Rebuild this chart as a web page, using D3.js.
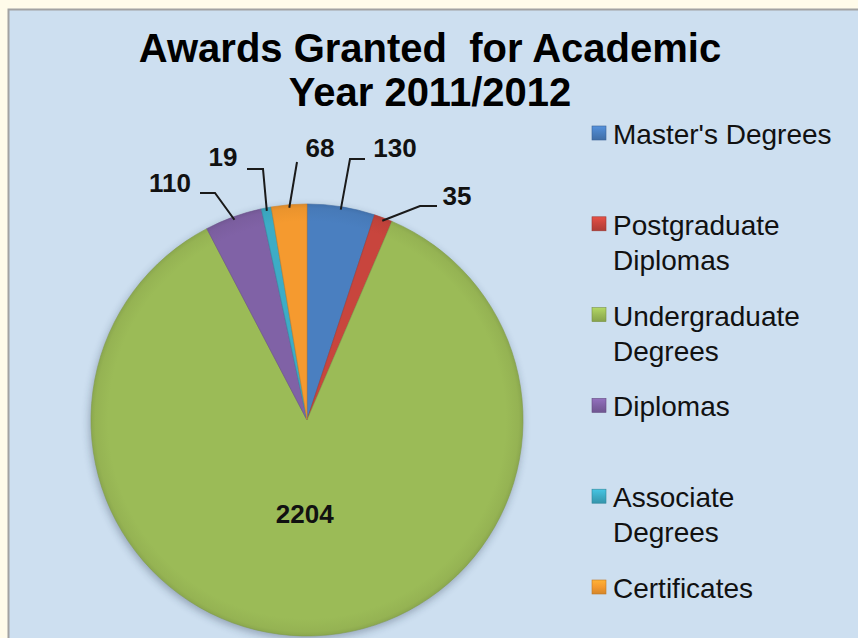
<!DOCTYPE html>
<html>
<head>
<meta charset="utf-8">
<script src="https://cdn.jsdelivr.net/npm/d3@7"></script>
<style>
  html, body { margin: 0; padding: 0; background: #fffbea; }
  svg { display: block; }
</style>
</head>
<body>
<svg id="chart" width="858" height="638"></svg>
<script>
// ---- data ----
const categories = ["Master's Degrees", "Postgraduate Diplomas", "Undergraduate Degrees", "Diplomas", "Associate Degrees", "Certificates"];
const values = [130, 35, 2204, 110, 19, 68];
const legendLines = [["Master's Degrees"], ["Postgraduate", "Diplomas"], ["Undergraduate", "Degrees"], ["Diplomas"], ["Associate", "Degrees"], ["Certificates"]];
const colors = ["#4a7fc0", "#c8453d", "#9bbb57", "#8062a6", "#3dacc6", "#f59a2f"];
const titleLines = ["Awards Granted  for Academic", "Year 2011/2012"];

// ---- layout (positions of outside labels: elbow point and horizontal end) ----
const labelLayout = [
  { elbow: [350, 159], end: [365, 159], text: [395, 157] },
  { elbow: [420, 206], end: [437, 206], text: [457, 205] },
  null,
  { elbow: [215, 193], end: [200, 193], text: [170, 192] },
  { elbow: [263, 169], end: [247, 169], text: [223, 166] },
  { elbow: [297, 162], end: [297, 162], text: [320, 157] }
];

const svg = d3.select("#chart");
const W = 858, H = 638;
const font = "'Liberation Sans', Arial, Helvetica, sans-serif";

const defs = svg.append("defs");
const blur = defs.append("filter").attr("id", "blur")
  .attr("x", "-20%").attr("y", "-20%").attr("width", "140%").attr("height", "140%");
blur.append("feGaussianBlur").attr("stdDeviation", 4);

// panel
svg.append("rect").attr("x", 8.5).attr("y", 9.5).attr("width", W).attr("height", H)
  .attr("fill", "#cddff0").attr("stroke", "#a2a2a2").attr("stroke-width", 2);

// title
svg.append("text").attr("x", 430).attr("y", 62)
  .attr("text-anchor", "middle").attr("font-family", font).attr("font-weight", "bold")
  .attr("font-size", 40).attr("fill", "#000").style("white-space", "pre")
  .text(titleLines[0]);
svg.append("text").attr("x", 430).attr("y", 106)
  .attr("text-anchor", "middle").attr("font-family", font).attr("font-weight", "bold")
  .attr("font-size", 40).attr("fill", "#000")
  .text(titleLines[1]);

// pie
const cx = 307, cy = 420, R = 216;
const pie = d3.pie().sort(null).value(d => d.value);
const data = categories.map((c, i) => ({ name: c, value: values[i], color: colors[i] }));
const arcs = pie(data);
const arc = d3.arc().innerRadius(0).outerRadius(R);

// gradients (in the pie group's local coordinates, centred on 0,0)
arcs.forEach((a, i) => {
  const base = d3.color(colors[i]);
  const g = defs.append("radialGradient").attr("id", "grad" + i)
    .attr("gradientUnits", "userSpaceOnUse").attr("cx", 0).attr("cy", 0).attr("r", R);
  g.append("stop").attr("offset", "0%").attr("stop-color", base.formatHex());
  g.append("stop").attr("offset", "92%").attr("stop-color", base.formatHex());
  g.append("stop").attr("offset", "98%").attr("stop-color", base.darker(0.12).formatHex());
  g.append("stop").attr("offset", "100%").attr("stop-color", base.darker(0.3).formatHex());
});

// shadow behind pie
svg.append("circle").attr("cx", cx - 1).attr("cy", cy + 3).attr("r", R)
  .attr("fill", "#1a2a40").attr("opacity", 0.35).attr("filter", "url(#blur)");

const gPie = svg.append("g").attr("transform", `translate(${cx},${cy})`);
gPie.selectAll("path").data(arcs).join("path")
  .attr("d", arc)
  .attr("fill", (d, i) => `url(#grad${i})`)
  .attr("stroke", (d, i) => d3.color(colors[i]).darker(0.5).formatHex())
  .attr("stroke-width", 0.6);

// labels
const lineGen = d3.line();
arcs.forEach((a, i) => {
  const mid = (a.startAngle + a.endAngle) / 2;
  if (!labelLayout[i]) {
    const rr = R * 0.44;
    svg.append("text")
      .attr("x", cx + rr * Math.sin(mid)).attr("y", cy - rr * Math.cos(mid))
      .attr("dx", -6).attr("dy", "0.3em")
      .attr("text-anchor", "middle").attr("font-family", font).attr("font-weight", "bold")
      .attr("font-size", 26).attr("fill", "#111")
      .text(values[i]);
    return;
  }
  const L = labelLayout[i];
  const rs = R - 3;
  const start = [cx + rs * Math.sin(mid), cy - rs * Math.cos(mid)];
  svg.append("path")
    .attr("d", lineGen([start, L.elbow, L.end]))
    .attr("fill", "none").attr("stroke", "#1a1a1a").attr("stroke-width", 2);
  svg.append("text")
    .attr("x", L.text[0]).attr("y", L.text[1])
    .attr("text-anchor", "middle").attr("font-family", font).attr("font-weight", "bold")
    .attr("font-size", 26).attr("fill", "#111")
    .text(values[i]);
});

// legend
const legendX = 592, legendY0 = 144, legendStep = 90.8, lineH = 35;
const lg = svg.append("g");
legendLines.forEach((lines, i) => {
  const y = legendY0 + i * legendStep;
  const base = d3.color(colors[i]);
  const mg = defs.append("linearGradient").attr("id", "lgrad" + i)
    .attr("x1", 0).attr("y1", 0).attr("x2", 0).attr("y2", 1);
  mg.append("stop").attr("offset", "0%").attr("stop-color", base.brighter(0.4).formatHex());
  mg.append("stop").attr("offset", "50%").attr("stop-color", base.formatHex());
  mg.append("stop").attr("offset", "100%").attr("stop-color", base.darker(0.4).formatHex());
  lg.append("rect").attr("x", legendX).attr("y", y - 18).attr("width", 14).attr("height", 14)
    .attr("fill", `url(#lgrad${i})`).attr("stroke", base.darker(0.7).formatHex()).attr("stroke-width", 0.6);
  const t = lg.append("text").attr("x", 613).attr("y", y)
    .attr("font-family", font).attr("font-size", 28).attr("fill", "#111");
  lines.forEach((ln, j) => {
    t.append("tspan").attr("x", 613).attr("y", y + j * lineH).text(ln);
  });
});
</script>
</body>
</html>
